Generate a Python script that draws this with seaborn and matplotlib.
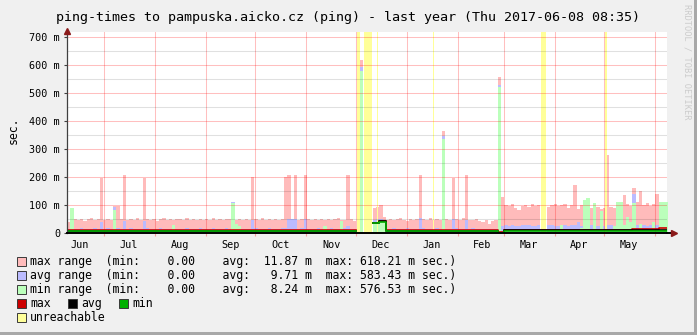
import numpy as np
import pandas as pd
import matplotlib
matplotlib.use("Agg")
import matplotlib.pyplot as plt
import matplotlib.dates as mdates
from matplotlib.ticker import MultipleLocator, NullFormatter, FixedLocator
from matplotlib.patches import Rectangle
import seaborn as sns

# ---------------- data ----------------
START = "2016-06-08 08:35"
END = "2017-06-08 08:35"
BIN_DAYS = 2  # one value per 2-day consolidation step

# per-step maxima (milliseconds)
max_range = [40, 38, 50, 48, 52, 45, 50, 53, 47, 50,
             197, 48, 52, 46, 97, 97, 50, 210, 47, 52,
             49, 53, 46, 197, 50, 48, 52, 45, 50, 53,
             48, 51, 47, 52, 50, 46, 53, 49, 51, 47,
             52, 48, 50, 46, 53, 49, 51, 47, 50, 52,
             112, 48, 50, 46, 52, 49, 201, 50, 47, 53,
             48, 51, 46, 52, 49, 50, 201, 210, 50, 207,
             48, 52, 210, 50, 47, 52, 49, 51, 48, 52,
             47, 50, 53, 48, 46, 210, 50, 45, 0, 618,
             0, 0, 0, 89, 95, 101, 60, 48, 52, 46,
             50, 53, 48, 45, 51, 49, 52, 207, 50, 47,
             53, 48, 51, 46, 365, 50, 47, 199, 52, 48,
             53, 210, 49, 46, 50, 44, 40, 48, 35, 45,
             47, 558, 128, 100, 96, 104, 90, 82, 98, 100,
             95, 104, 98, 100, 0, 0, 94, 100, 104, 96,
             102, 106, 92, 100, 171, 88, 100, 118, 126, 90,
             107, 95, 88, 92, 279, 94, 90, 112, 112, 136,
             105, 98, 162, 112, 150, 100, 108, 96, 104, 141,
             112, 112, 112]

avg_range = [15, 14, 17, 16, 18, 15, 17, 16, 18, 17,
             40, 16, 18, 15, 94, 20, 17, 45, 16, 18,
             15, 17, 16, 45, 18, 15, 17, 16, 18, 15,
             17, 16, 18, 15, 17, 16, 18, 17, 15, 16,
             18, 15, 17, 16, 18, 15, 17, 16, 18, 17,
             111, 16, 18, 15, 17, 16, 46, 18, 15, 17,
             16, 18, 15, 17, 16, 18, 20, 50, 50, 50,
             16, 18, 50, 15, 17, 16, 18, 15, 17, 16,
             18, 15, 17, 16, 18, 25, 16, 15, 0, 594,
             0, 0, 0, 48, 50, 50, 22, 17, 16, 18,
             15, 17, 16, 18, 15, 17, 16, 54, 18, 15,
             17, 16, 18, 15, 346, 17, 16, 50, 18, 15,
             17, 48, 16, 18, 15, 17, 16, 15, 14, 16,
             15, 530, 25, 28, 26, 30, 27, 25, 29, 28,
             30, 27, 26, 28, 0, 0, 28, 30, 27, 26,
             29, 28, 26, 30, 28, 40, 27, 30, 32, 28,
             30, 26, 29, 27, 30, 28, 26, 30, 29, 28,
             30, 27, 140, 29, 28, 30, 27, 29, 30, 28,
             30, 29, 28]

min_range = [10, 89, 11, 10, 12, 11, 10, 12, 11, 10,
             12, 11, 10, 12, 85, 11, 10, 12, 11, 10,
             12, 11, 10, 12, 11, 10, 12, 11, 10, 12,
             11, 10, 28, 11, 12, 10, 11, 12, 10, 11,
             12, 10, 11, 12, 10, 11, 12, 10, 11, 12,
             110, 35, 25, 11, 12, 10, 11, 12, 10, 11,
             12, 10, 11, 12, 10, 11, 12, 10, 11, 12,
             10, 11, 12, 10, 11, 12, 10, 11, 25, 11,
             12, 10, 11, 44, 12, 10, 11, 12, 0, 580,
             0, 0, 0, 40, 42, 46, 37, 11, 12, 10,
             11, 12, 10, 11, 12, 10, 11, 12, 10, 11,
             12, 10, 11, 12, 338, 10, 11, 12, 10, 11,
             12, 10, 11, 12, 10, 11, 12, 10, 11, 12,
             10, 522, 8, 12, 11, 13, 12, 11, 13, 12,
             11, 13, 12, 11, 0, 0, 12, 13, 11, 12,
             30, 13, 12, 11, 13, 12, 20, 118, 126, 12,
             107, 13, 80, 12, 13, 11, 25, 112, 112, 30,
             60, 40, 110, 12, 35, 13, 12, 20, 40, 12,
             112, 112, 112]

# averaged lines: value held from step `line_from` to step `line_to`
line_from = [0, 93, 95, 97, 131, 133, 172, 176, 180]
line_to = [88, 95, 97, 131, 133, 172, 176, 180, 183]
max_line = [12.5, 37, 43, 12.5, 3, 13, 15, 17, 18]
avg_line = [10, 36.5, 42.5, 10, 2, 10.5, 11, 11, 11.5]
min_line = [8.5, 36, 42, 8.5, 1.5, 9, 9, 9, 9]

# unreachable periods (days after START)
unreach_from = [176.4, 180.9, 188.5, 222.5, 288.3, 327.3]
unreach_to = [178.0, 185.4, 189.1, 223.1, 291.2, 328.3]

yticks = [0, 100, 200, 300, 400, 500, 600, 700]
ytick_labels = ["0", "100 m", "200 m", "300 m", "400 m", "500 m", "600 m", "700 m"]

title = "ping-times to pampuska.aicko.cz (ping) - last year (Thu 2017-06-08 08:35)"
legend_rows = [
    ("max range", "max range  (min:    0.00    avg:  11.87 m  max: 618.21 m sec.)"),
    ("avg range", "avg range  (min:    0.00    avg:   9.71 m  max: 583.43 m sec.)"),
    ("min range", "min range  (min:    0.00    avg:   8.24 m  max: 576.53 m sec.)"),
]

# ---------------- styling ----------------
C_MAXR = "#ffbbbb"
C_AVGR = "#bbbbff"
C_MINR = "#bbffbb"
C_MAX = "#cc0000"
C_AVG = "#000000"
C_MIN = "#00b000"
C_UNR = "#ffff99"
BG = "#f0f0f0"

plt.rcParams["font.family"] = ["DejaVu Sans Mono"]

W, H = 697, 335
fig = plt.figure(figsize=(W / 100, H / 100), dpi=100, facecolor=BG)
x0, x1, ytop, ybot = 67, 667, 32, 233.3
ax = fig.add_axes([x0 / W, 1 - ybot / H, (x1 - x0) / W, (ybot - ytop) / H])
ax.set_facecolor("white")

start = pd.Timestamp(START)
end = pd.Timestamp(END)
n = len(max_range)
edges = (start + pd.to_timedelta(np.arange(n + 1) * BIN_DAYS, unit="D")).to_numpy()


def stepvals(v):
    v = np.asarray(v, dtype=float)
    return np.append(v, v[-1])


for vals, col in [(max_range, C_MAXR), (avg_range, C_AVGR), (min_range, C_MINR)]:
    ax.fill_between(edges, 0, stepvals(vals), step="post", color=col, lw=0, zorder=1)

for s, e in zip(unreach_from, unreach_to):
    ax.axvspan(start + pd.Timedelta(days=s), start + pd.Timedelta(days=e),
               color=C_UNR, lw=0, zorder=2)

# lines via seaborn (step segments, gaps where the host was unreachable)
rows = []
run = 0
prev_to = None
for f, t, mx, av, mn in zip(line_from, line_to, max_line, avg_line, min_line):
    if prev_to is not None and f != prev_to:
        run += 1
    rows.append((run, edges[f], mx, av, mn))
    rows.append((run, edges[min(t, n)], mx, av, mn))
    prev_to = t
ldf = pd.DataFrame(rows, columns=["run", "time", "max", "avg", "min"])
for col, c in [("max", C_MAX), ("avg", C_AVG), ("min", C_MIN)]:
    sns.lineplot(data=ldf, x="time", y=col, units="run", estimator=None,
                 sort=False, color=c, lw=1.2, ax=ax, zorder=4)

ax.set_xlim(start, end)
ax.set_ylim(0, 719)
ax.set_xlabel("")
ax.set_ylabel("")

# grid & ticks
ax.set_axisbelow(False)
ax.yaxis.set_major_locator(FixedLocator(yticks))
ax.set_yticklabels(ytick_labels)
ax.yaxis.set_minor_locator(MultipleLocator(50))
ax.xaxis.set_major_locator(mdates.MonthLocator())
ax.xaxis.set_major_formatter(NullFormatter())
ax.xaxis.set_minor_locator(mdates.MonthLocator(bymonthday=16))
ax.xaxis.set_minor_formatter(mdates.DateFormatter("%b"))

ax.grid(True, which="major", axis="both", color="#ff0000", alpha=0.25, lw=0.75)
ax.grid(True, which="minor", axis="y", color="#000000", alpha=0.12, lw=0.75)
ax.grid(False, which="minor", axis="x")

ax.tick_params(axis="x", which="major", length=2.5, color="#f4a0a0", direction="out")
ax.tick_params(axis="x", which="minor", length=0, pad=4.5, labelsize=7.3, labelcolor="#000000")
ax.tick_params(axis="y", which="major", length=2.5, color="#404040", pad=2.5,
               labelsize=7.3, labelcolor="#000000")
ax.tick_params(axis="y", which="minor", length=0)

for s in ["top", "right"]:
    ax.spines[s].set_visible(False)
ax.spines["left"].set_color("#404040")
ax.spines["left"].set_linewidth(0.9)
ax.spines["bottom"].set_color("#000000")
ax.spines["bottom"].set_linewidth(1.4)
ax.spines["left"].set_zorder(5)
ax.spines["bottom"].set_zorder(5)

# axis arrows
ax.plot([1.0, 1.009], [0, 0], transform=ax.transAxes, color="#000000", lw=1.4,
        clip_on=False, zorder=5)
ax.plot([1.011], [0], transform=ax.transAxes, marker=">", ms=4.2, color="#8b1a1a",
        clip_on=False, zorder=6)
ax.plot([0], [1.006], transform=ax.transAxes, marker="^", ms=4.2, color="#8b1a1a",
        clip_on=False, zorder=6)

# texts
fig.text(0.5, 1 - 17 / H, title, ha="center", va="center", fontsize=9.6, color="#000000")
fig.text(13.5 / W, 1 - 130 / H, "sec.", rotation=90, ha="center", va="center",
         fontsize=8.3, color="#000000")
fig.text(686.5 / W, 1 - 62 / H, "RRDTOOL / TOBI OETIKER", rotation=-90, ha="center",
         va="center", fontsize=6.2, color="#cccccc")

# legend
def box(px, py, color):
    fig.add_artist(Rectangle((px / W, 1 - (py + 4.5) / H), 9 / W, 9 / H,
                             transform=fig.transFigure, facecolor=color,
                             edgecolor="#3a3a3a", lw=0.7))


leg_colors = {"max range": C_MAXR, "avg range": C_AVGR, "min range": C_MINR}
row_y = [261.3, 275.3, 289.3, 303.3, 317.3]
for (key, text), ry in zip(legend_rows, row_y[:3]):
    box(16.5, ry, leg_colors[key])
    fig.text(30 / W, 1 - ry / H, text, ha="left", va="center", fontsize=8.3, color="#000000")

for bx, tx, lab, c in [(16.5, 30, "max", C_MAX), (67.5, 81, "avg", C_AVG), (118.5, 132, "min", C_MIN)]:
    box(bx, row_y[3], c)
    fig.text(tx / W, 1 - row_y[3] / H, lab, ha="left", va="center", fontsize=8.3, color="#000000")
box(16.5, row_y[4], C_UNR)
fig.text(30 / W, 1 - row_y[4] / H, "unreachable", ha="left", va="center", fontsize=8.3, color="#000000")

# frame edges
fig.add_artist(Rectangle((694 / W, 0), 3 / W, 1, transform=fig.transFigure,
                         facecolor="#a8a8a8", lw=0))
fig.add_artist(Rectangle((0, 0), 1, 3 / H, transform=fig.transFigure,
                         facecolor="#a8a8a8", lw=0))

fig.savefig("out.png", dpi=100, facecolor=BG)
